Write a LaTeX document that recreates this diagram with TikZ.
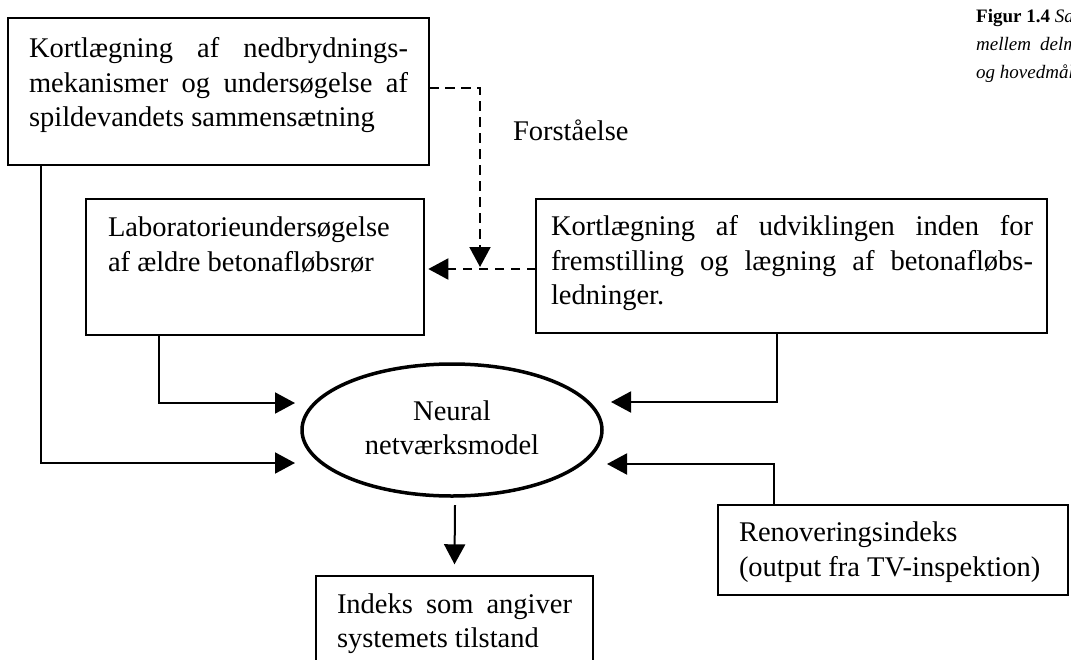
\documentclass[tikz,border=0pt]{standalone}
\usepackage{fontspec}
\setmainfont{Liberation Serif}
\usetikzlibrary{arrows.meta,shapes.geometric}
\newcommand\mainfnt{\fontsize{28.5}{34.5}\selectfont}
\newcommand\capfnt{\fontsize{19}{28}\selectfont}
\begin{document}
\begin{tikzpicture}[x=1pt,y=-1pt,
  box/.style={draw, line width=1.6pt, anchor=north west, inner sep=0pt, outer sep=0pt},
  txt/.style={anchor=base west, inner sep=0pt, outer sep=0pt, font=\mainfnt},
  ctxt/.style={anchor=base, inner sep=0pt, outer sep=0pt, font=\mainfnt},
  conn/.style={line width=2pt},
  arr/.style={conn, -{Triangle[length=20pt,width=21pt]}},
  darr/.style={arr, dash pattern=on 9.5pt off 6.5pt}]
\useasboundingbox (0,0) rectangle (1071,659);

% boxes
\node[box, minimum width=421pt, minimum height=147pt] (b1) at (8,18) {};
\node[box, minimum width=338pt, minimum height=136pt] (b2) at (86,199) {};
\node[box, minimum width=511pt, minimum height=134pt] (b4) at (536,199) {};
\node[box, minimum width=277pt, minimum height=100pt] (b5) at (316,576) {};
\node[box, minimum width=350pt, minimum height=90pt] (b6) at (718,505) {};
\node[draw, ellipse, line width=3.5pt, minimum width=300pt, minimum height=132pt, inner sep=0pt] (nn) at (452,430) {};

% texts
\node[txt] (t1) at (29,57.5) {\begin{tabular}[t]{@{}l@{}}\makebox[379pt][s]{Kortlægning af nedbrydnings-}\\ \makebox[379pt][s]{mekanismer og undersøgelse af}\\ spildevandets sammensætning\end{tabular}};
\node[txt] (t2) at (108,236.5) {\begin{tabular}[t]{@{}l@{}}Laboratorieundersøgelse\\ af ældre betonafløbsrør\end{tabular}};
\node[txt] (t4) at (551,235.5) {\begin{tabular}[t]{@{}l@{}}\makebox[482pt][s]{Kortlægning af udviklingen inden for}\\ \makebox[482pt][s]{fremstilling og lægning af betonafløbs-}\\ ledninger.\end{tabular}};
\node[txt] (t5) at (337,613) {\begin{tabular}[t]{@{}l@{}}\makebox[235pt][s]{Indeks som angiver}\\ systemets tilstand\end{tabular}};
\node[txt] (t6) at (739,541.7) {\begin{tabular}[t]{@{}l@{}}Renoveringsindeks\\ (output fra TV-inspektion)\end{tabular}};
\node[ctxt] (tn) at (452,420) {\begin{tabular}[t]{@{}c@{}}Neural\\ netværksmodel\end{tabular}};
\node[txt] (tf) at (513,140) {Forståelse};
\node[anchor=base west, inner sep=0pt, font=\capfnt] (cap) at (976,22) {\begin{tabular}[t]{@{}l@{}}\textbf{Figur 1.4} \textit{Sa}\\ \textit{mellem\hspace{9pt}delm}\\ \textit{og hovedmåls}\end{tabular}};

% connector ends
\coordinate (inL1) at (295,403);
\coordinate (inL2) at (295,463);
\coordinate (inR1) at (611,402);
\coordinate (inR2) at (607,464);
\coordinate (dtip) at (480,267);
\coordinate (dtop) at (455,505);

% connectors
\draw[arr] ([xshift=32.6pt]b1.south west) |- (inL2);
\draw[arr] ([xshift=73pt]b2.south west) |- (inL1);
\draw[arr] ([xshift=240.7pt]b4.south west) |- (inR1);
\draw[arr] ([xshift=56pt]b6.north west) |- (inR2);
\draw[arr] (dtop) -- ([yshift=11.7pt]b5.north);
\draw[darr] ([yshift=3.5pt]b1.east) -| (dtip);
\draw[darr] (b4.west |- 0,269) -- ([xshift=4.3pt]b2.east |- 0,269);
\end{tikzpicture}
\end{document}
